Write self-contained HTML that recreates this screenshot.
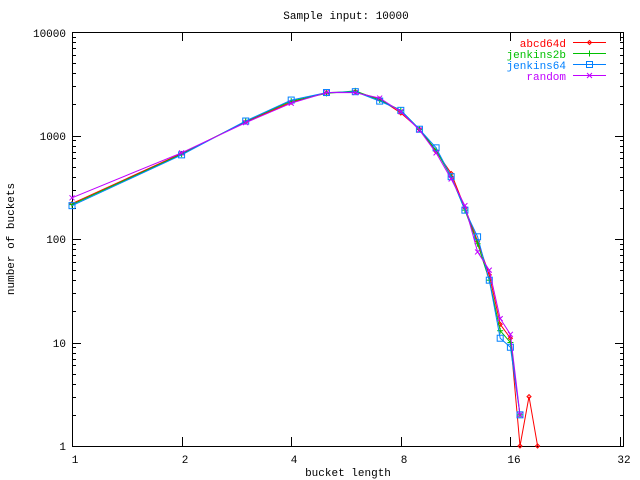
<!DOCTYPE html>
<html><head><meta charset="utf-8">
<style>
html,body{margin:0;padding:0;background:#fff;}
svg{display:block;}
text{font-family:"Liberation Mono","DejaVu Sans Mono",monospace;font-size:11px;}
</style></head>
<body>
<svg id="s" width="640" height="480" xmlns="http://www.w3.org/2000/svg">
<rect x="0" y="0" width="640" height="480" fill="#fff"/>
<g id="ticks" stroke="#000" stroke-width="1"></g>
<rect x="72.5" y="32.5" width="551" height="414" fill="none" stroke="#000" stroke-width="1"/>
<text x="346" y="19" text-anchor="middle">Sample input: 10000</text>
<text x="66" y="37" text-anchor="end">10000</text>
<text x="66" y="140" text-anchor="end">1000</text>
<text x="66" y="243" text-anchor="end">100</text>
<text x="66" y="347" text-anchor="end">10</text>
<text x="66" y="450" text-anchor="end">1</text>
<text x="75" y="463" text-anchor="middle">1</text>
<text x="185" y="463" text-anchor="middle">2</text>
<text x="294" y="463" text-anchor="middle">4</text>
<text x="404" y="463" text-anchor="middle">8</text>
<text x="514" y="463" text-anchor="middle">16</text>
<text x="624" y="463" text-anchor="middle">32</text>
<text x="348" y="476" text-anchor="middle">bucket length</text>
<text x="14" y="239" text-anchor="middle" transform="rotate(-90 14 239)">number of buckets</text>
<text x="566" y="47" text-anchor="end" fill="#ff0000">abcd64d</text>
<text x="566" y="58" text-anchor="end" fill="#00c000">jenkins2b</text>
<text x="566" y="69" text-anchor="end" fill="#0080ff">jenkins64</text>
<text x="566" y="80" text-anchor="end" fill="#c000ff">random</text>
<g id="data"></g>
</svg>
<script>
(function(){
var NS="http://www.w3.org/2000/svg";
function X(n){return 72+109.6*Math.log2(n);}
function Y(v){return 32+103.5*(4-Math.log10(v));}
var t=document.getElementById('ticks'),d=document.getElementById('data');
function ln(g,x1,y1,x2,y2,c,w){var l=document.createElementNS(NS,'line');l.setAttribute('x1',x1);l.setAttribute('y1',y1);l.setAttribute('x2',x2);l.setAttribute('y2',y2);l.setAttribute('stroke',c||'#000');l.setAttribute('stroke-width',w||1);g.appendChild(l);}
for(var dec=0;dec<4;dec++){for(var m=1;m<=10;m++){var y=Math.round(Y(Math.pow(10,dec)*m))+0.5;var L=(m==1||m==10)?9:4;ln(t,72,y,72+L,y);ln(t,624,y,624-L,y);}}
[1,2,4,8,16,32].forEach(function(n){var x=Math.round(X(n))+0.5;ln(t,x,446,x,437);ln(t,x,32,x,41);});
var S=[
["#ff0000",[220,670,1350,2100,2600,2650,2250,1650,1150,700,430,200,95,45,15,11,1,3,1],"d"],
["#00c000",[215,660,1370,2150,2550,2700,2200,1750,1150,720,400,190,90,40,13,10,2],"p"],
["#0080ff",[210,650,1380,2200,2600,2650,2150,1750,1150,760,400,190,105,40,11,9,2],"s"],
["#c000ff",[250,680,1330,2050,2600,2600,2300,1700,1130,680,380,210,75,50,17,12,2],"x"]];
function mk(g,x,y,c,k){
 if(k=="d"){var p=document.createElementNS(NS,'path');p.setAttribute('d','M'+(x-2)+' '+y+'L'+x+' '+(y-2)+'L'+(x+2)+' '+y+'L'+x+' '+(y+2)+'Z');p.setAttribute('fill','none');p.setAttribute('stroke',c);g.appendChild(p);}
 else if(k=="p"){ln(g,x-3,y,x+3,y,c);ln(g,x,y-3,x,y+3,c);}
 else if(k=="s"){var r=document.createElementNS(NS,'rect');r.setAttribute('x',x-3);r.setAttribute('y',y-3);r.setAttribute('width',6);r.setAttribute('height',6);r.setAttribute('fill','none');r.setAttribute('stroke',c);g.appendChild(r);}
 else {ln(g,x-2.5,y-2.5,x+2.5,y+2.5,c);ln(g,x-2.5,y+2.5,x+2.5,y-2.5,c);}
}
S.forEach(function(s,i){
 var pts=s[1].map(function(v,j){return [X(j+1),Y(v)];});
 var pl=document.createElementNS(NS,'polyline');
 pl.setAttribute('points',pts.map(function(p){return p[0].toFixed(1)+','+p[1].toFixed(1);}).join(' '));
 pl.setAttribute('fill','none');pl.setAttribute('stroke',s[0]);pl.setAttribute('stroke-width',1);
 d.appendChild(pl);
 pts.forEach(function(p){mk(d,p[0],p[1],s[0],s[2]);});
 var ly=[42,53,64,75][i]+0.5;
 ln(d,573,ly,606,ly,s[0]);mk(d,589.5,ly,s[0],s[2]);
});
})();
</script>
</body></html>
